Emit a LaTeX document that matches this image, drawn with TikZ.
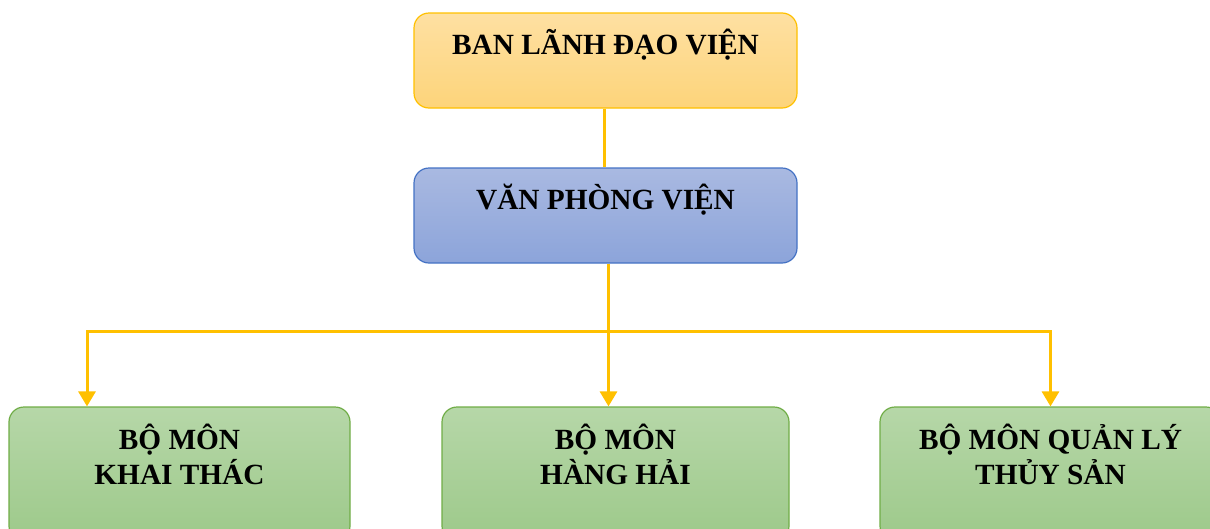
\documentclass[tikz,border=0pt]{standalone}
\usepackage{fontspec}
\setmainfont{Liberation Serif}
\usetikzlibrary{arrows.meta,calc}
\definecolor{goldline}{HTML}{FFC000}
\definecolor{ytop}{HTML}{FEE0A2}
\definecolor{ybot}{HTML}{FDD47A}
\definecolor{yborder}{HTML}{FFC000}
\definecolor{btop}{HTML}{A9B9E1}
\definecolor{bbot}{HTML}{8CA4DA}
\definecolor{bborder}{HTML}{4472C4}
\definecolor{gtop}{HTML}{B6D7A8}
\definecolor{gbot}{HTML}{9DC98A}
\definecolor{gborder}{HTML}{70AD47}
\tikzset{
  box/.style={rectangle, rounded corners=15pt, line width=1.2pt, inner sep=0pt},
  ybox/.style={box, draw=yborder, top color=ytop, bottom color=ybot},
  bbox/.style={box, draw=bborder, top color=btop, bottom color=bbot},
  gbox/.style={box, draw=gborder, top color=gtop, bottom color=gbot},
  ttl/.style={font=\bfseries\fontsize{29.3}{35}\selectfont, text=black, inner sep=0pt, align=center},
  arr/.style={draw=goldline, line width=3pt, -{Triangle[width=17pt,length=15pt]}},
  ln/.style={draw=goldline, line width=3pt},
}
\begin{document}
\begin{tikzpicture}[x=1pt,y=-1pt]
\useasboundingbox (0,0) rectangle (1210,528);
\clip (0,0) rectangle (1210,528);
\node[ybox, minimum width=383pt, minimum height=95pt,
  label={[ttl, anchor=base, yshift=-42pt]north:BAN LÃNH ĐẠO VIỆN}] (top) at (605.5,60.5) {};
\node[bbox, minimum width=383pt, minimum height=95pt,
  label={[ttl, anchor=base, yshift=-42pt]north:VĂN PHÒNG VIỆN}] (mid) at (605.5,215.5) {};
\node[gbox, minimum width=341pt, minimum height=134pt,
  label={[ttl, anchor=base, yshift=-78pt]north:BỘ MÔN\\KHAI THÁC}] (bl) at (179.5,474) {};
\node[gbox, minimum width=347pt, minimum height=134pt,
  label={[ttl, anchor=base, yshift=-78pt]north:BỘ MÔN\\HÀNG HẢI}] (bm) at (615.5,474) {};
\node[gbox, minimum width=341pt, minimum height=134pt,
  label={[ttl, anchor=base, yshift=-78pt]north:BỘ MÔN QUẢN LÝ\\THỦY SẢN}] (br) at (1050.5,474) {};
\draw[ln] ([xshift=-1pt]top.south) -- ([xshift=-1pt]top.south |- mid.north);
\draw[arr] ([xshift=3pt]mid.south) -- ([xshift=3pt]mid.south |- bm.north);
\coordinate (j) at ($(mid.south)+(3,68)$);
\draw[arr] (j) -| ([xshift=-92.5pt]bl.north);
\draw[arr] (j) -| (br.north);
\end{tikzpicture}
\end{document}
